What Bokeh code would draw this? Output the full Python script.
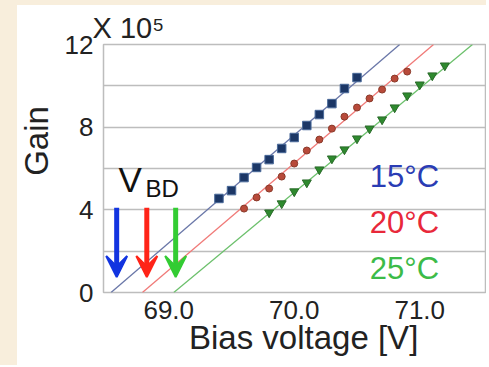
import numpy as np
from bokeh.plotting import figure
from bokeh.models import Range1d, FixedTicker, Label, Arrow, VeeHead, InlineStyleSheet
from bokeh.embed import file_html
from bokeh.resources import INLINE

# ---------------- data ----------------
v15 = [69.4, 69.5, 69.6, 69.7, 69.8, 69.9, 70.0, 70.1, 70.2, 70.3, 70.4, 70.5]
g15 = [4.55, 4.93, 5.56, 6.05, 6.43, 6.97, 7.50, 8.08, 8.61, 9.14, 9.87, 10.40]
v20 = [69.6, 69.7, 69.8, 69.9, 70.0, 70.1, 70.2, 70.3, 70.4, 70.5, 70.6, 70.7, 70.8, 70.9]
g20 = [4.06, 4.60, 5.03, 5.61, 6.24, 6.87, 7.40, 7.93, 8.51, 8.95, 9.39, 9.82, 10.35, 10.69]
v25 = [69.8, 69.9, 70.0, 70.1, 70.2, 70.3, 70.4, 70.5, 70.6, 70.7, 70.8, 70.9, 71.0, 71.1, 71.2]
g25 = [3.87, 4.31, 4.89, 5.32, 5.95, 6.48, 6.92, 7.45, 7.93, 8.37, 8.95, 9.53, 10.06, 10.50, 10.98]

# linear fits (voltage at gain 0 and at gain 12)
fit_v15 = [68.54, 70.84]
fit_v20 = [68.79, 71.11]
fit_v25 = [69.04, 71.42]
fit_g = [0, 12]

# breakdown-voltage arrows
vbd = [68.585, 68.825, 69.055]
arrow_top = 4.1
arrow_tip = 0.75

temps = ["15°C", "20°C", "25°C"]
x_ticks = [69, 70, 71]
x_tick_labels = {69: "69.0", 70: "70.0", 71: "71.0"}
y_ticks = [0, 4, 8, 12]
y_grid = [0, 2, 4, 6, 8, 10, 12]

FONT = "Liberation Sans"
BEIGE = "#f8eedc"
BLUE_LINE, RED_LINE, GREEN_LINE = "#6a77a8", "#f07a78", "#6cc06c"
BLUE_MK, RED_MK, GREEN_MK = "#1c3766", "#b84a3a", "#2e8a2e"
ARROW_COLS = ["#1234e0", "#ff2418", "#33cc33"]
TEMP_COLS = ["#2a3cb4", "#e8283a", "#3cbb48"]
NB = "\u00a0"
LIFT = 0.53  # label baseline correction (gain units)

bg_css = (":host { background-color: #ffffff; "
          "background-image: linear-gradient(to right, %s 17px, rgba(255,255,255,0) 17px), "
          "linear-gradient(to bottom, %s 5px, rgba(255,255,255,0) 5px); "
          "background-repeat: no-repeat; background-size: 100%% 100%%; }" % (BEIGE, BEIGE))

p = figure(width=486, height=365, output_backend="svg", toolbar_location=None,
           x_range=Range1d(68.48, 71.524), y_range=Range1d(0, 12),
           min_border_left=103, min_border_right=1, min_border_top=44,
           min_border_bottom=73, stylesheets=[InlineStyleSheet(css=bg_css)])
p.border_fill_color = None
p.background_fill_color = "white"
p.outline_line_color = "#bdbdbd"
p.outline_line_width = 1.5

# title used as the scale factor
p.title.text = "X 10\u2075"
p.title.text_font = FONT
p.title.text_font_size = "29px"
p.title.text_font_style = "normal"
p.title.text_color = "#222222"
p.title.align = "left"
p.title.offset = -11
p.title.standoff = 1

# grids
p.xgrid.visible = False
p.ygrid.ticker = FixedTicker(ticks=y_grid)
p.ygrid.grid_line_color = "#bdbdbd"
p.ygrid.grid_line_width = 1.5

# axes
for ax in (p.xaxis[0], p.yaxis[0]):
    ax.axis_line_color = None
    ax.major_tick_line_color = None
    ax.minor_tick_line_color = None
    ax.major_tick_out = 0
    ax.major_tick_in = 0
    ax.minor_tick_out = 0
    ax.major_label_text_font = FONT
    ax.major_label_text_font_size = "26px"
    ax.major_label_text_color = "#222222"
    ax.axis_label_text_font = FONT
    ax.axis_label_text_font_style = "normal"
    ax.axis_label_text_color = "#222222"
p.xaxis.ticker = FixedTicker(ticks=x_ticks)
p.xaxis.major_label_overrides = x_tick_labels
p.xaxis.major_label_standoff = 8
p.xaxis.axis_label = NB * 2 + "Bias voltage [V]"
p.xaxis.axis_label_text_font_size = "33px"
p.xaxis.axis_label_standoff = -3
p.yaxis.ticker = FixedTicker(ticks=y_ticks)
p.yaxis.major_label_standoff = 10
p.yaxis.axis_label = NB * 6 + "Gain"
p.yaxis.axis_label_text_font_size = "33px"
p.yaxis.axis_label_standoff = 7

# fit lines
p.line(fit_v15, fit_g, line_color=BLUE_LINE, line_width=1.3)
p.line(fit_v20, fit_g, line_color=RED_LINE, line_width=1.3)
p.line(fit_v25, fit_g, line_color=GREEN_LINE, line_width=1.3)

# data markers
p.scatter(v15, g15, marker="square", size=8.5, fill_color=BLUE_MK, line_color="#4a6a9a", line_width=1)
p.scatter(v20, g20, marker="circle", size=7, fill_color=RED_MK, line_color="#8a3a2a", line_width=1)
p.scatter(v25, g25, marker="inverted_triangle", size=9, fill_color=GREEN_MK, line_color="#2a6a2a", line_width=1)

# arrows
for xv, c in zip(vbd, ARROW_COLS):
    p.add_layout(Arrow(x_start=xv, y_start=arrow_top, x_end=xv, y_end=arrow_tip,
                       line_color=c, line_width=5,
                       end=VeeHead(size=21, fill_color=c, line_color=c, line_width=2)))

# V_BD label
p.add_layout(Label(x=68.6, y=4.93 + LIFT, text="V", text_font=FONT, text_font_size="35px",
                   text_color="#111111", text_align="left", text_baseline="alphabetic"))
p.add_layout(Label(x=68.815, y=4.50 + LIFT, text="BD", text_font=FONT, text_font_size="24px",
                   text_color="#111111", text_align="left", text_baseline="alphabetic"))

# temperature labels
for t, c, yb in zip(temps, TEMP_COLS, [5.08, 2.85, 0.63]):
    p.add_layout(Label(x=70.878, y=yb + LIFT, text=t, text_font=FONT, text_font_size="31px",
                       text_color=c, text_align="center", text_baseline="alphabetic"))

open("out.html", "w").write(file_html(p, INLINE))
